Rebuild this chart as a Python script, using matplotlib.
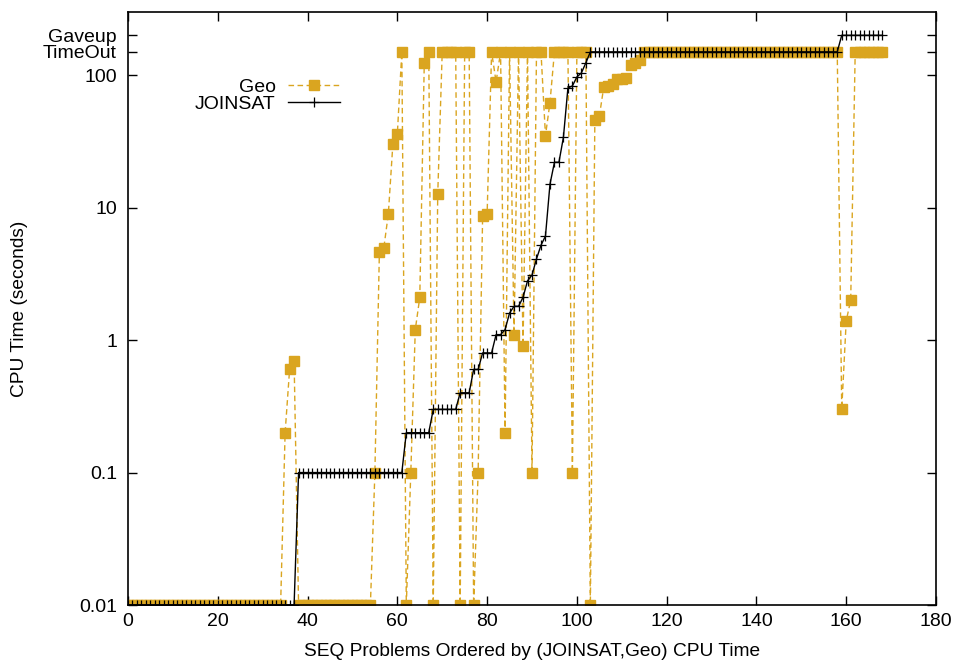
import matplotlib
matplotlib.use('Agg')
import numpy as np
from matplotlib import pyplot as plt

plt.rcParams['font.family'] = ['Liberation Sans', 'DejaVu Sans']

TIMEOUT = 150
GAVEUP = 200

# Geo CPU time per problem (index 0..168)
geo = ([0.01] * 35 + [0.2, 0.6, 0.7] + [0.01] * 17 +
       [0.1, 4.6, 5.0, 9.0, 30, 36, TIMEOUT, 0.01, 0.1, 1.2, 2.1, 123, TIMEOUT,
        0.01, 12.6, TIMEOUT, TIMEOUT, TIMEOUT, TIMEOUT, 0.01, TIMEOUT, TIMEOUT,
        0.01, 0.1, 8.6, 8.9, TIMEOUT, 89, TIMEOUT, 0.2, TIMEOUT, 1.1, TIMEOUT,
        0.9, TIMEOUT, 0.1, TIMEOUT, TIMEOUT, 35, 62, TIMEOUT, TIMEOUT, TIMEOUT,
        TIMEOUT, 0.1, TIMEOUT, TIMEOUT, TIMEOUT, 0.01, 46, 49, 82, 83, 86, 93,
        94, 96, 119, 124, 131] +
       [TIMEOUT] * 44 + [0.3, 1.4, 2.0] + [TIMEOUT] * 7)

# JOINSAT CPU time per problem
joinsat = ([0.01] * 38 + [0.1] * 24 + [0.2] * 6 + [0.3] * 6 + [0.4] * 3 +
           [0.6] * 2 + [0.8] * 3 + [1.1, 1.1, 1.2] +
           [1.6, 1.8, 1.8, 2.1, 2.8, 3.1, 4.1, 5.2, 6.1, 15, 22, 22, 34, 80, 83,
            97, 104, 124] +
           [TIMEOUT] * 56 + [GAVEUP] * 10)

ytick_vals = [0.01, 0.1, 1, 10, 100, TIMEOUT, GAVEUP]
ytick_labels = ['0.01', '0.1', '1', '10', '100', 'TimeOut', 'Gaveup']
xtick_vals = [0, 20, 40, 60, 80, 100, 120, 140, 160, 180]

gold = '#DAA520'

fig = plt.figure(figsize=(9.56, 6.62), dpi=100)
ax = fig.add_axes([128/956, 1-605/662, (936-128)/956, (605-12)/662])

ax.plot(np.arange(len(geo)), geo, color=gold, lw=1.0, dashes=(4, 2.5),
        marker='s', ms=6.5, mec=gold, mfc=gold, label='Geo')
ax.plot(np.arange(len(joinsat)), joinsat, color='black', lw=1.0,
        marker='+', ms=7.5, mew=0.9, label='JOINSAT')

ax.set_yscale('log')
ax.set_xlim(0, 180)
ax.set_ylim(0.01, 300)
ax.set_xticks(xtick_vals)
ax.set_yticks(ytick_vals)
ax.set_yticklabels(ytick_labels)
ax.yaxis.set_minor_locator(matplotlib.ticker.NullLocator())
ax.tick_params(direction='in', length=6.5, width=1, top=True, right=True,
               labelsize=14)
ax.tick_params(axis='x', pad=6)
ax.tick_params(axis='y', pad=8)
for s in ax.spines.values():
    s.set_linewidth(1.2)

ax.set_xlabel('SEQ Problems Ordered by (JOINSAT,Geo) CPU Time', fontsize=13.8,
              labelpad=9)
ax.set_ylabel('CPU Time (seconds)', fontsize=13.8, labelpad=11)

ax.legend(loc='upper right', bbox_to_anchor=(340/956, 1-78/662),
          bbox_transform=fig.transFigure, frameon=False, markerfirst=False,
          handlelength=2.7, fontsize=14, borderpad=0, borderaxespad=0,
          labelspacing=0.0, handletextpad=0.6)

fig.savefig('out.png', dpi=100)
